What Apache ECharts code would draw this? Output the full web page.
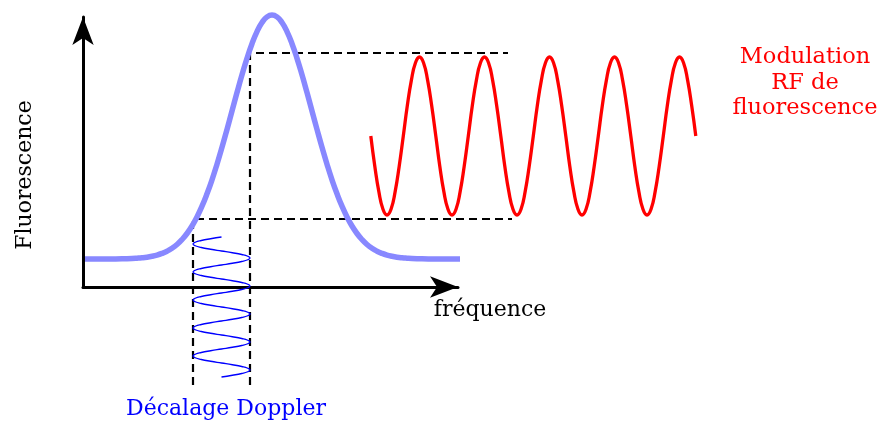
<!DOCTYPE html>
<html>
<head>
<meta charset="utf-8">
<script src="https://cdn.jsdelivr.net/npm/echarts@6/dist/echarts.min.js"></script>
<style>
html,body{margin:0;padding:0;background:#fff;}
#chart{width:879px;height:422px;}
</style>
</head>
<body>
<div id="chart"></div>
<script>
// Diagram units: x = frequency (origin at the axes corner), y = fluorescence.
// Gaussian fluorescence line profile
const gaussX = [2,14,29,39,49,54,59,64,69,74,79,84,89,94,99,104,109,114,119,124,129,134,139,144,149,154,159,164,169,174,179,184,189,194,199,204,209,214,219,224,229,234,239,244,249,254,259,264,269,274,279,284,289,294,299,304,309,314,319,324,329,339,349,364,377];
const gaussY = [28,28,28.1,28.2,28.5,28.8,29.2,29.8,30.7,31.9,33.6,35.8,38.7,42.5,47.4,53.5,61.0,70.1,80.8,93.2,107.2,122.8,139.7,157.6,176.0,194.4,212.2,228.7,243.3,255.4,264.5,270.1,272,270.1,264.5,255.4,243.3,228.7,212.2,194.4,176.0,157.6,139.7,122.8,107.2,93.2,80.8,70.1,61.0,53.5,47.4,42.5,38.7,35.8,33.6,31.9,30.7,29.8,29.2,28.8,28.5,28.2,28.1,28,28];

// RF fluorescence modulation (red sine)
const redX = [287.8,291.8,295.9,299.9,304.0,308.1,312.1,316.2,320.3,324.3,328.4,332.4,336.5,340.6,344.6,348.7,352.8,356.8,360.9,364.9,369.0,373.1,377.1,381.2,385.3,389.3,393.4,397.4,401.5,405.6,409.6,413.7,417.8,421.8,425.9,429.9,434.0,438.1,442.1,446.2,450.3,454.3,458.4,462.4,466.5,470.6,474.6,478.7,482.8,486.8,490.9,494.9,499.0,503.1,507.1,511.2,515.3,519.3,523.4,527.4,531.5,535.6,539.6,543.7,547.8,551.8,555.9,559.9,564.0,568.1,572.1,576.2,580.3,584.3,588.4,592.4,596.5,600.6,604.6,608.7,612.8];
const redY = [
  151,120.8,95.1,78.0,72,78.0,95.1,120.8,151,181.2,206.9,224.0,230,224.0,206.9,181.2,
  151,120.8,95.1,78.0,72,78.0,95.1,120.8,151,181.2,206.9,224.0,230,224.0,206.9,181.2,
  151,120.8,95.1,78.0,72,78.0,95.1,120.8,151,181.2,206.9,224.0,230,224.0,206.9,181.2,
  151,120.8,95.1,78.0,72,78.0,95.1,120.8,151,181.2,206.9,224.0,230,224.0,206.9,181.2,
  151,120.8,95.1,78.0,72,78.0,95.1,120.8,151,181.2,206.9,224.0,230,224.0,206.9,181.2,
  151];

// Doppler shift modulation (thin blue sine, vertical)
const dopX = [
  138.5,127.6,118.3,112.2,110,112.2,118.3,127.6,138.5,149.4,158.7,164.8,167,164.8,158.7,149.4,
  138.5,127.6,118.3,112.2,110,112.2,118.3,127.6,138.5,149.4,158.7,164.8,167,164.8,158.7,149.4,
  138.5,127.6,118.3,112.2,110,112.2,118.3,127.6,138.5,149.4,158.7,164.8,167,164.8,158.7,149.4,
  138.5,127.6,118.3,112.2,110,112.2,118.3,127.6,138.5,149.4,158.7,164.8,167,164.8,158.7,149.4,
  138.5,127.6,118.3,112.2,110,112.2,118.3,127.6,138.5,149.4,158.7,164.8,167,164.8,158.7,149.4,
  138.5];
const dopY = [50,48.25,46.5,44.75,43,41.25,39.5,37.75,36,34.25,32.5,30.75,29,27.25,25.5,23.75,22,20.25,18.5,16.75,15,13.25,11.5,9.75,8,6.25,4.5,2.75,1,-0.75,-2.5,-4.25,-6,-7.75,-9.5,-11.25,-13,-14.75,-16.5,-18.25,-20,-21.75,-23.5,-25.25,-27,-28.75,-30.5,-32.25,-34,-35.75,-37.5,-39.25,-41,-42.75,-44.5,-46.25,-48,-49.75,-51.5,-53.25,-55,-56.75,-58.5,-60.25,-62,-63.75,-65.5,-67.25,-69,-70.75,-72.5,-74.25,-76,-77.75,-79.5,-81.25,-83,-84.75,-86.5,-88.25,-90];

// Dashed guide lines
const guideHighX = [167,167,425];
const guideHighY = [-98,234,234];
const guideLowX = [110,110,429];
const guideLowY = [-98,68,68];

// Texts
const xAxisName = 'fréquence';
const yAxisName = 'Fluorescence';
const redLabel = ['Modulation', 'RF de', 'fluorescence'];
const blueLabel = 'Décalage Doppler';

const zip = (xs, ys) => xs.map((x, i) => [x, ys[i]]);
const FONT = '"DejaVu Serif", serif';

const chart = echarts.init(document.getElementById('chart'), null, {renderer: 'canvas'});
const hidden = {show: false};
chart.setOption({
  animation: false,
  backgroundColor: '#fff',
  grid: [
    {left: 83, top: 17, width: 375, height: 270},
    {left: 0, top: 0, right: 0, bottom: 0}
  ],
  xAxis: [
    {gridIndex: 0, type: 'value', min: 0, max: 1,
     axisLine: {show: true, symbol: ['none', 'arrow'], symbolSize: [16, 28], lineStyle: {color: '#000', width: 3}},
     axisTick: hidden, axisLabel: hidden, splitLine: hidden},
    {gridIndex: 1, type: 'value', min: -83, max: 796,
     axisLine: hidden, axisTick: hidden, axisLabel: hidden, splitLine: hidden}
  ],
  yAxis: [
    {gridIndex: 0, type: 'value', min: 0, max: 1,
     axisLine: {show: true, symbol: ['none', 'arrow'], symbolSize: [16, 28], lineStyle: {color: '#000', width: 3}},
     axisTick: hidden, axisLabel: hidden, splitLine: hidden},
    {gridIndex: 1, type: 'value', min: -135, max: 287,
     axisLine: hidden, axisTick: hidden, axisLabel: hidden, splitLine: hidden}
  ],
  series: [
    {type: 'line', xAxisIndex: 1, yAxisIndex: 1, data: zip(guideHighX, guideHighY), showSymbol: false, z: 3,
     lineStyle: {color: '#000', width: 2.2, type: [8, 5]}},
    {type: 'line', xAxisIndex: 1, yAxisIndex: 1, data: zip(guideLowX, guideLowY), showSymbol: false, z: 3,
     lineStyle: {color: '#000', width: 2.2, type: [8, 5]}},
    {type: 'line', xAxisIndex: 1, yAxisIndex: 1, data: zip(gaussX, gaussY), showSymbol: false, smooth: 0.5, z: 4,
     lineStyle: {color: '#8888ff', width: 5.5, join: 'round'}},
    {type: 'line', xAxisIndex: 1, yAxisIndex: 1, data: zip(redX, redY), showSymbol: false, smooth: 0.5, z: 4,
     lineStyle: {color: '#ff0000', width: 3.3, join: 'round'}},
    {type: 'line', xAxisIndex: 1, yAxisIndex: 1, data: zip(dopX, dopY), showSymbol: false, smooth: 0.5, z: 5,
     lineStyle: {color: '#0000ff', width: 1.3, join: 'round'}}
  ],
  graphic: [
    {type: 'text', x: 490, y: 310, style: {text: xAxisName, font: '22px ' + FONT, fill: '#000', textAlign: 'center', textVerticalAlign: 'middle'}},
    {type: 'text', x: 25, y: 175, rotation: Math.PI / 2, style: {text: yAxisName, font: '22px ' + FONT, fill: '#000', textAlign: 'center', textVerticalAlign: 'middle'}},
    {type: 'text', x: 805, y: 83, style: {text: redLabel.join('\n'), font: '22.5px ' + FONT, lineHeight: 25.5, fill: '#ff0000', textAlign: 'center', textVerticalAlign: 'middle'}},
    {type: 'text', x: 226, y: 409.5, style: {text: blueLabel, font: '22px ' + FONT, fill: '#0000ff', textAlign: 'center', textVerticalAlign: 'middle'}}
  ]
});
</script>
</body>
</html>
